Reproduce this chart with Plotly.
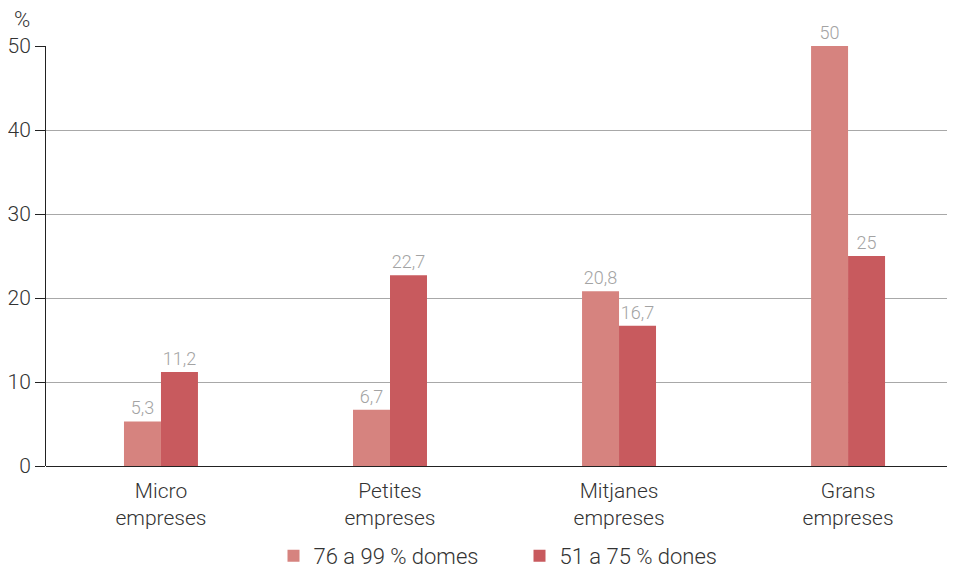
import plotly.graph_objects as go

categories = ["Micro<br>empreses", "Petites<br>empreses", "Mitjanes<br>empreses", "Grans<br>empreses"]
serie_76_99 = [5.3, 6.7, 20.8, 50]
serie_51_75 = [11.2, 22.7, 16.7, 25]
labels_76_99 = ["5,3", "6,7", "20,8", "50"]
labels_51_75 = ["11,2", "22,7", "16,7", "25"]
names = ["76 a 99 % domes", "51 a 75 % dones"]
colors = ["#d6837f", "#c85a5e"]

FONT = "Roboto"

fig = go.Figure()
for vals, labs, name, col in [(serie_76_99, labels_76_99, names[0], colors[0]),
                              (serie_51_75, labels_51_75, names[1], colors[1])]:
    fig.add_trace(go.Bar(
        x=categories, y=vals, name=name, marker=dict(color=col, line=dict(width=0)),
        text=labs, textposition="outside", cliponaxis=False,
        textfont=dict(color="#a3a3a3", size=18, family=FONT, weight=300),
    ))

fig.update_layout(
    width=939, height=560,
    margin=dict(l=38, r=0, t=38, b=102, autoexpand=False),
    paper_bgcolor="white", plot_bgcolor="white",
    barmode="group", bargap=0.677, bargroupgap=0,
    font=dict(family=FONT, size=20, color="#333333", weight=300),
    showlegend=True,
    legend=dict(orientation="h", x=0.2525, xanchor="left", y=-0.214, yanchor="middle",
                font=dict(size=22, color="#333333", weight=300), itemwidth=30,
                entrywidth=201, traceorder="normal"),
    xaxis=dict(showline=False, ticks="", automargin=False, range=[-0.502, 3.432],
               ticklabelstandoff=10,
               tickfont=dict(size=21, color="#333333", weight=300), fixedrange=True),
    yaxis=dict(range=[0, 50], tickvals=[0, 10, 20, 30, 40, 50], showgrid=True, automargin=False,
               gridcolor="#a8a8a8", gridwidth=1, showline=True, linecolor="#222222", linewidth=1,
               ticks="outside", ticklen=10, tickcolor="#222222",
               tickfont=dict(size=21, color="#333333", weight=300), zeroline=True,
               zerolinecolor="#222222", zerolinewidth=1),
    annotations=[dict(text="%", xref="paper", yref="paper", x=-0.0265, y=1.062,
                      xanchor="center", yanchor="middle", showarrow=False,
                      font=dict(size=22, color="#333333", weight=300))],
)

fig.write_html("out.html")
